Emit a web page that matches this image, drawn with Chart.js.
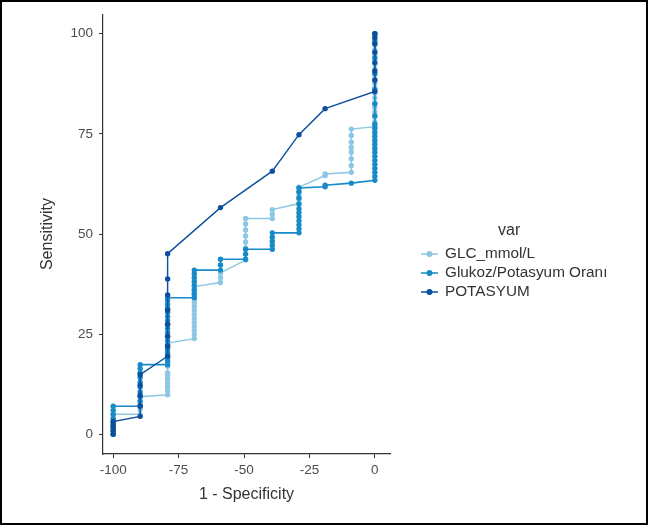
<!DOCTYPE html>
<html><head><meta charset="utf-8">
<script src="https://cdn.jsdelivr.net/npm/chart.js@4.4.1/dist/chart.umd.min.js"></script>
<style>html,body{margin:0;padding:0;background:#fff;}#wrap{position:relative;width:649px;height:526px;}</style>
</head><body><div id="wrap"><canvas id="c" width="649" height="526"></canvas></div>
<script>
const seriesNames = ['GLC_mmol/L', 'Glukoz/Potasyum Oranı', 'POTASYUM'];
const legendTitle = 'var';
const xAxisTitle = '1 - Specificity';
const yAxisTitle = 'Sensitivity';
const xTicks = [-100, -75, -50, -25, 0];
const yTicks = [0, 25, 50, 75, 100];

// each series: x position of every column, and the sensitivity values read at that column
const glcX = [-100, -89.7, -79.2, -69, -59, -49.4, -39.2, -29, -19, -9, 0];
const glcY = [
  [0, 1, 2, 3, 4, 5],
  [5, 6.2, 7.4, 8.4, 9.4],
  [9.9, 10.9, 11.9, 12.9, 13.9, 14.9, 15.4, 17.0, 18.0, 19.0, 20.0, 21.0, 22.0, 22.8],
  [23.9, 24.9, 25.9, 26.9, 27.9, 28.9, 29.9, 30.9, 31.9, 32.9, 33.9, 34.9, 35.9, 36.9],
  [37.9, 39.1, 40.3],
  [43.5, 45.0, 46.5, 48.0, 49.5, 51.0, 52.5, 53.9],
  [53.9, 55.0, 56.1],
  [57.6, 58.6, 59.6, 60.6, 61.7],
  [64.6, 65.0],
  [65.4, 67.1, 68.8, 70.4, 71.6, 72.9, 74.6, 76.2],
  [76.8, 78.0, 79.2, 80.4, 81.6, 82.8, 84.0, 85.2, 86.4, 87.6, 88.8, 90.0, 91.2, 92.4, 93.6, 94.8, 96.0, 97.2, 98.4, 99.4, 100]
];

const ratioX = [-100, -89.7, -79.2, -69, -59, -49.4, -39.2, -29, -19, -9, 0];
const ratioY = [
  [0, 1, 2, 3, 4, 5, 6, 7],
  [7, 8.2, 9.4, 10.6, 11.8, 13, 14.2, 15.4, 16.4, 17.4],
  [17.4, 18.4, 19.4, 20.4, 21.4, 22.4, 23.4, 24.4, 25.4, 26.4, 27.4, 28.4, 29.4, 30.4, 31.4, 32.4, 33.4, 34.1],
  [34.1, 35.1, 36.1, 37.1, 38.1, 39.1, 40.1, 41.0],
  [41.0, 42.3, 43.7],
  [43.7, 45.0, 46.2],
  [46.2, 47.2, 48.2, 49.2, 50.3],
  [50.3, 51.3, 52.3, 53.3, 54.3, 55.3, 56.3, 57.5, 59.0, 60.5, 61.5],
  [61.8, 62.2],
  [62.7],
  [63.4, 64.4, 65.4, 66.4, 67.4, 68.4, 69.4, 70.4, 71.4, 72.4, 73.4, 74.4, 75.4, 76.4, 77.4, 79.5, 82.5, 86, 90, 94, 98, 100]
];

const potX = [-100, -89.7, -79.2, -59, -39.2, -29, -19, 0];
const potY = [
  [0, 0.8, 1.6, 2.4, 3.2],
  [4.5, 7.1, 9.7, 12.3, 14.9],
  [19.5, 22.0, 24.5, 27.5, 31.0, 34.8, 38.8, 45.1],
  [56.6],
  [65.7],
  [74.8],
  [81.3],
  [85.6, 88.4, 90.7, 92.8, 95.4, 97.5, 99.0, 100]
];

const colors = ['#8cc7e3', '#178bc8', '#0d4f9c'];
const FONT = '"Liberation Sans", Arial, Helvetica, sans-serif';

function pairs(xs, cols) {
  const out = [];
  xs.forEach((x, i) => cols[i].forEach(y => out.push({ x: x, y: y })));
  return out;
}
function ds(i, xs, ys, order, lw) {
  return {
    label: seriesNames[i], data: pairs(xs, ys), showLine: true, tension: 0,
    borderColor: colors[i], backgroundColor: colors[i], pointBackgroundColor: colors[i],
    pointBorderWidth: 0, pointRadius: 2.7, borderWidth: lw, order: order
  };
}

const framePlugin = {
  id: 'frame',
  beforeDraw(chart) {
    const c = chart.ctx; c.save(); c.fillStyle = '#fff'; c.fillRect(0, 0, chart.width, chart.height); c.restore();
  },
  afterDraw(chart) {
    const c = chart.ctx;
    c.save();
    c.fillStyle = '#333';
    c.font = '16px ' + FONT;
    c.textBaseline = 'middle';
    c.textAlign = 'left';
    c.fillText(legendTitle, 498, 231);
    const ys = [254, 273, 292];
    chart.data.datasets.forEach((d, i) => {
      const y = ys[i];
      c.strokeStyle = d.borderColor; c.lineWidth = 1.5;
      c.beginPath(); c.moveTo(421, y); c.lineTo(438, y); c.stroke();
      c.fillStyle = d.borderColor;
      c.beginPath(); c.arc(429.5, y, 3, 0, Math.PI * 2); c.fill();
      c.fillStyle = '#333';
      c.font = '15.3px ' + FONT;
      c.fillText(d.label, 445, y);
    });
    c.strokeStyle = '#000'; c.lineWidth = 2;
    c.strokeRect(1, 1, 646, 523);
    c.restore();
  }
};

new Chart(document.getElementById('c'), {
  type: 'line',
  data: { datasets: [ds(0, glcX, glcY, 3, 1.5), ds(1, ratioX, ratioY, 2, 1.6), ds(2, potX, potY, 1, 1.4)] },
  options: {
    responsive: false, animation: false, devicePixelRatio: 1,
    layout: { padding: { left: 0, top: 13, right: 259, bottom: 0 } },
    plugins: { legend: { display: false }, tooltip: { enabled: false } },
    scales: {
      x: {
        type: 'linear', min: -103.9, max: 5.8,
        afterBuildTicks: s => { s.ticks = xTicks.map(v => ({ value: v })); },
        afterFit: s => { s.height = 72; },
        grid: { display: true, drawOnChartArea: false, drawTicks: true, tickLength: 4, color: '#333', lineWidth: 1 },
        border: { display: true, color: '#333', width: 1.2 },
        ticks: { color: '#4d4d4d', font: { family: FONT, size: 13.5 }, padding: 4, maxRotation: 0, autoSkip: false },
        title: { display: true, text: xAxisTitle, color: '#333', font: { family: FONT, size: 16 }, padding: { top: 0, bottom: 21.4 } }
      },
      y: {
        type: 'linear', min: -4.9, max: 104.9,
        afterBuildTicks: s => { s.ticks = yTicks.map(v => ({ value: v })); },
        afterFit: s => { s.width = 103; },
        grid: { display: true, drawOnChartArea: false, drawTicks: true, tickLength: 4, color: '#333', lineWidth: 1 },
        border: { display: true, color: '#333', width: 1.2 },
        ticks: { color: '#4d4d4d', font: { family: FONT, size: 13.5 }, padding: 6, autoSkip: false },
        title: { display: true, text: yAxisTitle, color: '#333', font: { family: FONT, size: 16 }, padding: { top: 38.4, bottom: 0 } }
      }
    }
  },
  plugins: [framePlugin]
});
</script>
</body></html>
